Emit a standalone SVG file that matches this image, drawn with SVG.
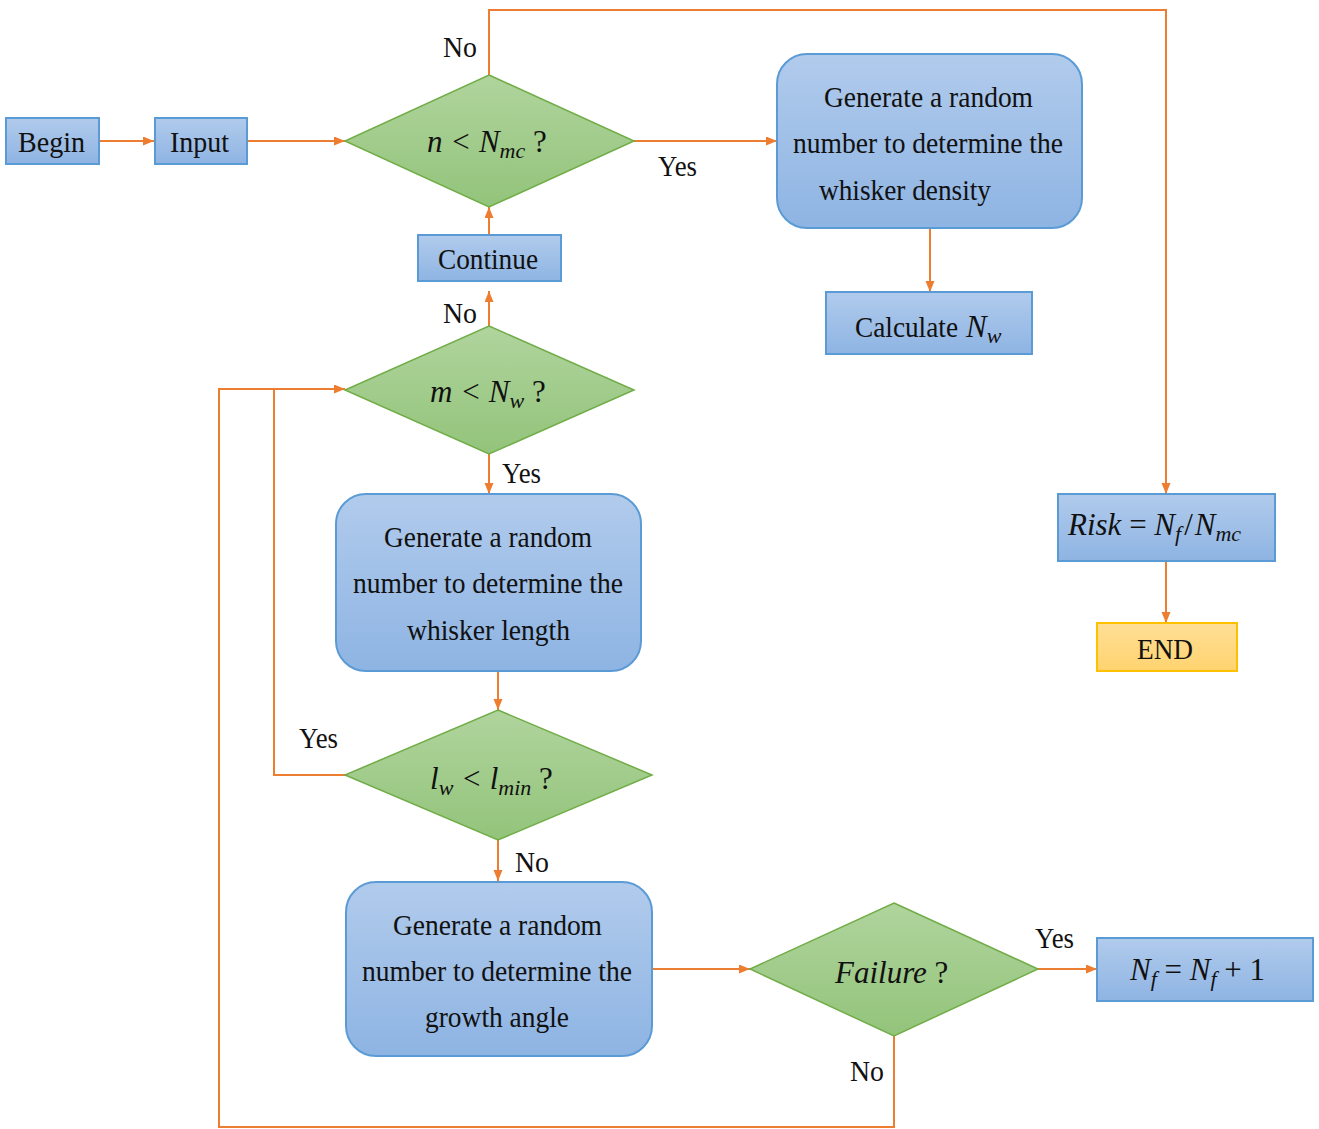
<svg xmlns="http://www.w3.org/2000/svg" width="1319" height="1129" viewBox="0 0 1319 1129">
<defs>
<linearGradient id="gb" x1="0" y1="0" x2="0" y2="1"><stop offset="0" stop-color="#b1cbec"/><stop offset="1" stop-color="#8eb4e3"/></linearGradient>
<linearGradient id="gg" x1="0" y1="0" x2="0" y2="1"><stop offset="0" stop-color="#b0d49d"/><stop offset="1" stop-color="#93c47b"/></linearGradient>
<linearGradient id="gy" x1="0" y1="0" x2="0" y2="1"><stop offset="0" stop-color="#ffdf96"/><stop offset="1" stop-color="#ffd36f"/></linearGradient>
<marker id="ah" markerUnits="userSpaceOnUse" markerWidth="12" markerHeight="10" refX="11" refY="4.5" orient="auto"><path d="M0,0 L11,4.5 L0,9 z" fill="#ED7D31"/></marker>
</defs>
<style>
.box{fill:url(#gb);stroke:#5b9bd5;stroke-width:2}
.dia{fill:url(#gg);stroke:#70ad47;stroke-width:1.5}
.end{fill:url(#gy);stroke:#ffc000;stroke-width:2}
.c{fill:none;stroke:#ED7D31;stroke-width:2}
.ca{fill:none;stroke:#ED7D31;stroke-width:2;marker-end:url(#ah)}
text{font-family:'Liberation Serif','DejaVu Serif',serif;font-size:30px;fill:#111}
.m{font-style:italic;font-size:31px}
.s{font-size:22px}
</style>
<rect width="1319" height="1129" fill="#fff"/>
<g id="connectors">
<path class="ca" d="M99,141 H154"/>
<path class="ca" d="M247,141 H345"/>
<path class="ca" d="M634,141 H777"/>
<path class="ca" d="M930,228 V292"/>
<path class="ca" d="M489,235 V207"/>
<path class="ca" d="M489,326 V291"/>
<path class="ca" d="M489,75 V10 H1166 V494"/>
<path class="ca" d="M489,454 V494"/>
<path class="ca" d="M498,671 V710"/>
<path class="c" d="M345,775 H274 V389"/>
<path class="ca" d="M894,1036 V1127 H219 V389 H345"/>
<path class="ca" d="M498,840 V881"/>
<path class="ca" d="M652,969 H750"/>
<path class="ca" d="M1038,969 H1097"/>
<path class="ca" d="M1166,561 V623"/>
</g>
<g id="labels">
<text x="443" y="57" textLength="34" lengthAdjust="spacingAndGlyphs">No</text>
<text x="658" y="176" textLength="39" lengthAdjust="spacingAndGlyphs">Yes</text>
<text x="443" y="323" textLength="34" lengthAdjust="spacingAndGlyphs">No</text>
<text x="502" y="483" textLength="39" lengthAdjust="spacingAndGlyphs">Yes</text>
<text x="299" y="748" textLength="39" lengthAdjust="spacingAndGlyphs">Yes</text>
<text x="515" y="872" textLength="34" lengthAdjust="spacingAndGlyphs">No</text>
<text x="1035" y="948" textLength="39" lengthAdjust="spacingAndGlyphs">Yes</text>
<text x="850" y="1081" textLength="34" lengthAdjust="spacingAndGlyphs">No</text>
</g>
<g id="begin">
<rect class="box" x="6" y="118" width="93" height="46"/>
<text x="18" y="152" textLength="67" lengthAdjust="spacingAndGlyphs">Begin</text>
</g>
<g id="input">
<rect class="box" x="155" y="118" width="92" height="46"/>
<text x="170" y="152" textLength="59" lengthAdjust="spacingAndGlyphs">Input</text>
</g>
<g id="dec-n">
<polygon class="dia" points="489,75 634,141 489,207 345,141"/>
<text class="m" x="427" y="152" font-size="30">n &lt; N<tspan class="s" dy="6">mc</tspan><tspan dy="-6" font-style="normal"> ?</tspan></text>
</g>
<g id="gen-density">
<rect class="box" x="777" y="54" width="305" height="174" rx="30"/>
<text x="824" y="107" textLength="209" lengthAdjust="spacingAndGlyphs">Generate a random</text>
<text x="793" y="153" textLength="270" lengthAdjust="spacingAndGlyphs">number to determine the</text>
<text x="819" y="200" textLength="172" lengthAdjust="spacingAndGlyphs">whisker density</text>
</g>
<g id="calc-nw">
<rect class="box" x="826" y="292" width="206" height="62"/>
<text x="855" y="337" textLength="103" lengthAdjust="spacingAndGlyphs">Calculate</text>
<text class="m" x="966" y="337">N<tspan class="s" dy="6">w</tspan></text>
</g>
<g id="continue">
<rect class="box" x="418" y="235" width="143" height="46"/>
<text x="438" y="269" textLength="100" lengthAdjust="spacingAndGlyphs">Continue</text>
</g>
<g id="dec-m">
<polygon class="dia" points="489,326 634,390 489,454 345,390"/>
<text class="m" x="430" y="402" font-size="30">m &lt; N<tspan class="s" dy="6">w</tspan><tspan dy="-6" font-style="normal"> ?</tspan></text>
</g>
<g id="gen-length">
<rect class="box" x="336" y="494" width="305" height="177" rx="30"/>
<text x="384" y="547" textLength="208" lengthAdjust="spacingAndGlyphs">Generate a random</text>
<text x="353" y="593" textLength="270" lengthAdjust="spacingAndGlyphs">number to determine the</text>
<text x="407" y="640" textLength="163" lengthAdjust="spacingAndGlyphs">whisker length</text>
</g>
<g id="dec-l">
<polygon class="dia" points="498,710 652,775 498,840 345,775"/>
<text class="m" x="430" y="789">l<tspan class="s" dy="6">w</tspan><tspan dy="-6"> &lt; l</tspan><tspan class="s" dy="6">min</tspan><tspan dy="-6" font-style="normal"> ?</tspan></text>
</g>
<g id="gen-angle">
<rect class="box" x="346" y="882" width="306" height="174" rx="30"/>
<text x="393" y="935" textLength="209" lengthAdjust="spacingAndGlyphs">Generate a random</text>
<text x="362" y="981" textLength="270" lengthAdjust="spacingAndGlyphs">number to determine the</text>
<text x="425" y="1027" textLength="144" lengthAdjust="spacingAndGlyphs">growth angle</text>
</g>
<g id="dec-failure">
<polygon class="dia" points="894,903 1038,969 894,1036 750,969"/>
<text class="m" x="835" y="983" font-size="30">Failure<tspan font-style="normal"> ?</tspan></text>
</g>
<g id="nf-inc">
<rect class="box" x="1097" y="938" width="216" height="63"/>
<text class="m" x="1130" y="980">N<tspan class="s" dy="6">f</tspan><tspan dy="-6" font-style="normal"> = </tspan>N<tspan class="s" dy="6">f</tspan><tspan dy="-6" font-style="normal"> + 1</tspan></text>
</g>
<g id="risk">
<rect class="box" x="1058" y="494" width="217" height="67"/>
<text class="m" x="1068" y="535" font-size="33">Risk<tspan font-style="normal"> = </tspan>N<tspan class="s" dy="6">f</tspan><tspan dy="-6" dx="3" font-style="normal">/</tspan><tspan dx="2">N</tspan><tspan class="s" dy="6">mc</tspan></text>
</g>
<g id="end">
<rect class="end" x="1097" y="623" width="140" height="48"/>
<text x="1137" y="659" textLength="56" lengthAdjust="spacingAndGlyphs">END</text>
</g>
</svg>
